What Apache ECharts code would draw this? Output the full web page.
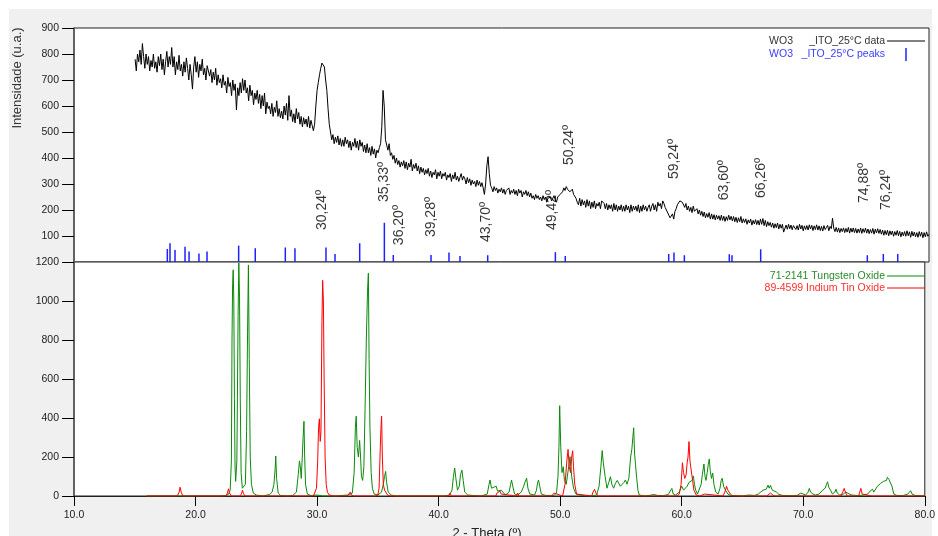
<!DOCTYPE html>
<html>
<head>
<meta charset="utf-8">
<script src="https://cdn.jsdelivr.net/npm/echarts/dist/echarts.min.js"></script>
<style>
html,body{margin:0;padding:0;background:#fff;}
#chart{width:938px;height:536px;}
</style>
</head>
<body>
<div id="chart"></div>
<script>
// ---------- DATA ----------
// Measured scan (WO3 _ITO_25°C data): 2-theta grid start / step, intensities
const scanStart = 15.0;
const scanStep = 0.1;
const wo3Counts = [
  780,735,800,770,815,760,840,790,745,800,
  760,790,735,775,750,800,745,770,730,790,
  755,800,740,780,720,770,810,750,790,760,
  825,750,790,720,770,740,795,735,760,715,
  770,730,785,745,700,760,720,665,750,790,
  730,770,710,760,735,780,720,745,700,755,
  760,715,740,690,730,700,745,680,720,690,
  705,670,720,680,695,650,710,675,690,640,
  700,660,685,585,670,640,690,650,705,660,
  700,650,670,620,680,640,660,605,650,625,
  660,610,645,590,640,600,650,570,615,590,
  600,570,610,560,595,575,620,560,590,555,
  580,550,600,565,610,545,640,560,585,540,
  570,535,590,550,575,530,560,520,555,530,
  550,520,560,515,545,525,505,530,600,660,
  690,720,745,765,770,750,700,660,590,530,
  500,470,490,455,480,460,485,450,475,445,
  470,445,480,455,470,440,465,430,460,445,
  475,440,465,430,470,445,460,425,450,420,
  455,420,440,410,445,415,435,400,430,420,
  440,455,520,660,600,470,450,430,455,410,
  420,395,410,380,400,375,390,365,385,370,
  390,360,385,355,380,365,395,350,375,360,
  380,350,370,340,365,345,360,335,355,340,
  360,330,350,325,345,335,355,320,345,330,
  350,320,340,330,345,315,335,325,340,310,
  335,320,345,315,330,310,325,340,315,330,
  320,300,325,305,320,295,315,300,310,290,
  315,295,310,290,305,285,260,300,370,405,
  340,295,285,270,290,275,285,265,280,270,
  285,265,280,260,275,270,285,260,275,265,
  280,260,275,255,280,265,275,250,270,260,
  275,255,270,250,265,245,255,240,260,245,
  255,240,250,235,255,240,250,230,245,240,
  250,235,245,255,240,230,250,245,260,255,
  270,285,275,290,280,285,270,275,280,260,
  265,245,230,220,245,215,240,220,235,210,
  240,215,235,205,230,210,235,205,225,215,
  230,205,235,240,225,205,225,200,220,205,
  220,195,225,200,220,195,215,200,220,195,
  215,195,220,200,215,190,220,195,215,200,
  215,195,220,190,215,195,220,200,215,195,
  210,220,195,215,225,200,220,195,230,215,
  225,205,235,225,210,200,195,180,170,175,
  185,165,195,205,220,215,235,240,230,225,
  210,225,200,215,195,210,190,215,195,200,
  205,185,200,180,195,175,192,170,186,172,
  190,165,185,165,182,162,180,165,178,160,
  180,160,176,156,174,160,180,162,176,158,
  175,155,172,152,170,155,175,150,166,152,
  166,145,162,150,165,142,160,146,163,144,
  160,142,165,145,167,140,160,136,155,140,
  152,134,150,130,147,132,150,127,145,130,
  145,115,122,142,126,145,128,142,124,140,
  143,125,140,123,145,127,141,120,139,125,
  140,123,143,127,141,121,139,125,143,123,
  139,121,137,119,140,125,133,141,120,137,
  128,168,130,117,133,115,131,113,129,117,
  131,113,129,115,133,111,130,115,131,113,
  129,111,127,113,131,110,128,114,130,111,
  127,109,125,111,129,107,126,112,128,110,
  125,107,123,103,121,105,122,101,120,105,
  119,99,117,103,121,101,118,97,115,101,
  117,99,120,101,116,95,118,100,115,97,
  113,95,117,99,115,93,113,97,116,99,
  106
];

// Identified peaks (blue sticks): positions (2-theta) and heights
const peakPos = [17.64,17.86,18.27,19.09,19.42,20.23,20.89,23.48,24.84,27.30,28.09,30.63,31.37,33.39,35.41,36.14,39.23,40.70,41.60,43.87,49.41,50.22,58.69,59.12,59.97,63.65,63.87,66.22,74.95,76.26,77.44];
const peakHeight = [50,72,46,59,40,33,40,63,53,56,53,56,31,72,151,27,27,37,23,26,38,23,31,37,26,30,26,49,26,31,31];

// Annotations in the upper panel
const annotLabels = ["30,24º","35,33º","36,20º","39,28º","43,70º","49,42º","50,24º","59,24º","63,60º","66,26º","74,88º","76,24º"];
const annotX = [30.30,35.38,36.61,39.23,43.73,49.13,50.53,59.12,63.22,66.25,74.68,76.48];
const annotY = [200,308,142,173,154,200,450,396,315,323,304,277];

// Reference pattern 71-2141 Tungsten Oxide [2theta, intensity]
const tungstenPattern = [
  [16.0,0],[16.4,0],[16.5,6],[16.6,0],[17.2,0],[17.3,5],[17.4,0],[20.5,0],[20.6,6],[20.7,0],
  [22.0,0],[22.5,3],[22.7,8],[22.85,30],[22.95,180],[23.0,800],[23.05,1090],[23.1,1160],[23.15,1000],[23.2,500],
  [23.25,150],[23.3,75],[23.4,180],[23.5,920],[23.56,1195],[23.62,1020],[23.68,500],[23.75,120],[23.85,40],[23.95,30],
  [24.1,60],[24.2,330],[24.28,840],[24.35,1185],[24.42,700],[24.5,200],[24.6,60],[24.75,15],[25.0,5],[25.5,0],
  [25.9,5],[26.1,8],[26.3,20],[26.45,60],[26.55,140],[26.6,205],[26.67,90],[26.8,15],[27.0,3],[27.5,0],
  [28.0,3],[28.3,20],[28.45,110],[28.55,180],[28.62,150],[28.7,90],[28.78,200],[28.85,300],[28.92,383],[28.98,200],
  [29.05,60],[29.2,10],[29.5,2],[30.0,5],[30.5,0],[31.5,0],[32.5,5],[32.9,15],[33.05,120],[33.15,350],
  [33.22,409],[33.3,250],[33.4,200],[33.5,285],[33.58,200],[33.65,100],[33.75,80],[33.85,150],[33.95,450],[34.05,800],
  [34.15,1050],[34.22,1143],[34.28,700],[34.35,350],[34.45,120],[34.55,40],[34.7,10],[35.0,5],[35.3,20],[35.45,60],
  [35.55,100],[35.64,126],[35.72,70],[35.85,20],[36.1,5],[36.5,0],[37.2,0],[37.3,5],[37.4,0],[38.9,0],
  [39.0,5],[39.2,0],[40.5,0],[40.9,5],[41.1,30],[41.22,100],[41.32,144],[41.42,90],[41.55,30],[41.7,50],
  [41.8,110],[41.92,132],[42.02,80],[42.15,20],[42.4,5],[43.0,2],[43.5,0],[44.0,10],[44.15,60],[44.23,82],
  [44.35,40],[44.45,30],[44.55,45],[44.73,51],[44.85,25],[45.0,15],[45.15,30],[45.3,25],[45.5,5],[45.8,20],
  [45.92,60],[46.0,82],[46.1,50],[46.25,10],[46.5,5],[46.8,20],[47.0,50],[47.1,70],[47.24,91],[47.35,40],
  [47.5,10],[47.9,5],[48.05,30],[48.15,70],[48.22,82],[48.32,50],[48.45,10],[48.8,3],[49.5,3],[49.7,15],
  [49.82,100],[49.9,250],[49.96,463],[50.05,250],[50.15,120],[50.26,150],[50.35,80],[50.5,60],[50.7,150],[50.81,202],
  [50.95,100],[51.1,40],[51.3,10],[51.6,5],[52.0,2],[52.5,0],[53.0,5],[53.2,50],[53.35,150],[53.46,233],
  [53.55,170],[53.7,100],[53.85,40],[54.0,70],[54.14,99],[54.25,60],[54.4,40],[54.55,65],[54.7,80],[54.82,84],
  [54.95,50],[55.1,40],[55.25,70],[55.37,82],[55.5,60],[55.65,90],[55.8,200],[55.9,240],[55.98,300],[56.05,350],
  [56.12,220],[56.2,160],[56.3,90],[56.4,30],[56.5,5],[57.0,0],[57.5,5],[57.7,8],[58.0,3],[58.5,2],
  [58.9,8],[59.05,25],[59.19,39],[59.3,10],[59.5,5],[59.8,20],[60.0,51],[60.15,30],[60.3,25],[60.45,50],
  [60.6,70],[60.75,60],[60.85,80],[60.96,103],[61.05,60],[61.15,30],[61.3,10],[61.45,20],[61.6,60],[61.7,110],
  [61.83,164],[61.92,100],[62.0,80],[62.1,120],[62.18,160],[62.27,190],[62.35,130],[62.45,90],[62.55,118],[62.65,60],
  [62.8,20],[63.0,10],[63.15,40],[63.25,80],[63.33,91],[63.45,50],[63.6,30],[63.8,10],[64.0,3],[64.5,2],
  [65.0,0],[65.5,5],[66.0,3],[66.3,10],[66.5,20],[66.7,30],[66.85,40],[66.96,35],[67.1,56],[67.2,40],
  [67.3,55],[67.45,30],[67.6,25],[67.8,20],[68.0,8],[68.3,3],[69.0,2],[69.5,3],[69.8,15],[69.95,10],
  [70.2,5],[70.4,20],[70.5,39],[70.6,20],[70.8,10],[71.0,5],[71.3,10],[71.6,30],[71.8,40],[71.92,60],
  [72.0,73],[72.1,45],[72.25,30],[72.4,10],[72.6,20],[72.7,35],[72.8,15],[73.0,5],[73.3,10],[73.5,20],
  [73.65,30],[73.8,10],[74.0,5],[74.5,2],[75.0,5],[75.3,10],[75.5,25],[75.7,35],[75.8,20],[75.95,30],
  [76.1,50],[76.25,40],[76.37,65],[76.5,55],[76.6,75],[76.75,85],[76.85,80],[76.92,96],[77.05,85],[77.2,80],
  [77.3,50],[77.45,10],[77.7,3],[78.2,2],[78.6,10],[78.75,20],[78.84,27],[78.95,10],[79.2,3],[80.0,0]
];

// Reference pattern 89-4599 Indium Tin Oxide [2theta, intensity]
const itoPattern = [
  [16.0,0],[18.5,0],[18.65,20],[18.73,45],[18.82,20],[18.95,0],[22.5,0],[22.62,15],[22.71,37],[22.8,15],
  [22.95,0],[23.7,0],[23.8,15],[23.86,30],[23.95,12],[24.05,0],[29.7,0],[29.85,10],[29.95,40],[30.05,180],
  [30.12,350],[30.19,396],[30.26,280],[30.32,330],[30.4,900],[30.46,1106],[30.52,1000],[30.58,600],[30.66,200],[30.75,60],
  [30.85,20],[31.0,5],[31.4,0],[32.5,0],[32.65,10],[32.73,20],[32.82,5],[33.0,0],[34.8,0],[35.0,5],
  [35.1,40],[35.2,250],[35.25,340],[35.31,409],[35.37,200],[35.45,60],[35.55,30],[35.65,20],[35.8,5],[36.0,0],
  [37.5,0],[37.6,5],[37.7,0],[38.3,0],[38.4,3],[38.5,0],[40.8,0],[40.94,15],[41.05,0],[42.3,0],
  [42.4,5],[42.5,0],[44.7,0],[44.8,15],[44.86,22],[44.95,10],[45.05,25],[45.15,10],[45.3,0],[46.4,0],
  [46.5,15],[46.6,0],[49.3,0],[49.45,10],[49.5,15],[49.6,5],[50.2,0],[50.4,60],[50.55,180],[50.65,239],
  [50.75,150],[50.85,120],[50.95,200],[51.03,232],[51.1,150],[51.2,60],[51.35,10],[51.5,0],[52.6,0],[52.7,20],
  [52.83,34],[52.95,15],[53.1,0],[59.6,0],[59.8,10],[59.95,60],[60.06,171],[60.15,120],[60.25,90],[60.36,108],
  [60.45,170],[60.52,200],[60.6,279],[60.68,180],[60.74,150],[60.8,150],[60.9,80],[61.0,30],[61.2,5],[61.5,0],
  [61.9,10],[62.0,0],[63.4,0],[63.55,20],[63.69,50],[63.8,30],[63.9,25],[64.0,10],[64.2,0],[67.0,0],
  [67.15,10],[67.3,15],[67.45,5],[67.6,0],[73.1,0],[73.25,20],[73.37,39],[73.5,15],[73.6,0],[74.55,0],
  [74.65,20],[74.74,39],[74.85,10],[75.0,0],[75.6,0],[75.7,10],[75.8,0],[78.5,0],[78.6,8],[78.7,0],[80.0,0]
];

// ---------- BUILD ----------
const wo3Series = wo3Counts.map((v, i) => [+(scanStart + i * scanStep).toFixed(2), v]);
const peakData = peakPos.map((x, i) => [x, peakHeight[i]]);
const annotData = annotX.map((x, i) => ({ value: [x, annotY[i]], name: annotLabels[i] }));

const FONT = '"Liberation Sans", Arial, sans-serif';
const chart = echarts.init(document.getElementById('chart'), null, { renderer: 'canvas' });

const grids = [
  { left: 74, right: 9, top: 28, height: 234, show: true, backgroundColor: '#fff', borderColor: '#222', borderWidth: 1, z: 0 },
  { left: 74, right: 9, top: 262, height: 234, show: true, backgroundColor: '#fff', borderColor: '#222', borderWidth: 1, z: 0 }
];

const yLabelStyle = { color: '#222', fontSize: 10.5, fontFamily: FONT, margin: 15, formatter: v => String(v) };

chart.setOption({
  animation: false,
  backgroundColor: '#fff',
  grid: grids,
  xAxis: [
    { gridIndex: 0, type: 'value', min: 10, max: 80, interval: 10,
      axisLine: { show: false }, axisTick: { show: false }, axisLabel: { show: false }, splitLine: { show: false } },
    { gridIndex: 1, type: 'value', min: 10, max: 80, interval: 10,
      axisLine: { show: true, onZero: false, lineStyle: { color: '#222', width: 1 } },
      axisTick: { show: true, length: 10, lineStyle: { color: '#000', width: 1 } },
      axisLabel: { color: '#222', fontSize: 10.5, fontFamily: FONT, margin: 14, formatter: v => v.toFixed(1) },
      splitLine: { show: false } }
  ],
  yAxis: [
    { gridIndex: 0, type: 'value', min: 0, max: 900, interval: 100,
      axisLine: { show: true, lineStyle: { color: '#555', width: 1.5 } },
      axisTick: { show: true, length: 12, lineStyle: { color: '#000', width: 1 } },
      axisLabel: Object.assign({}, yLabelStyle, { showMinLabel: false, formatter: v => (v === 0 ? '' : String(v)) }),
      splitLine: { show: false } },
    { gridIndex: 1, type: 'value', min: 0, max: 1200, interval: 200,
      axisLine: { show: true, lineStyle: { color: '#555', width: 1.5 } },
      axisTick: { show: true, length: 12, lineStyle: { color: '#000', width: 1 } },
      axisLabel: yLabelStyle,
      splitLine: { show: false } }
  ],
  series: [
    { type: 'scatter', xAxisIndex: 0, yAxisIndex: 0, symbolSize: 0, z: 1,
      data: annotData,
      label: { show: true, position: 'inside', rotate: 90, formatter: p => p.name,
               color: '#000', fontSize: 14, fontFamily: FONT, align: 'center', verticalAlign: 'middle' },
      labelLayout: { hideOverlap: false } },
    { type: 'line', name: 'data', xAxisIndex: 0, yAxisIndex: 0, data: wo3Series, showSymbol: false, symbol: 'none',
      lineStyle: { color: '#000', width: 1 }, z: 3 },
    { type: 'custom', name: 'peaks', xAxisIndex: 0, yAxisIndex: 0, data: peakData, z: 4,
      encode: { x: 0, y: 1 },
      renderItem: (params, api) => {
        const p0 = api.coord([api.value(0), 0]);
        const p1 = api.coord([api.value(0), api.value(1)]);
        return { type: 'line', shape: { x1: p0[0], y1: p0[1], x2: p1[0], y2: p1[1] },
                 style: { stroke: '#2020ff', lineWidth: 1.5 } };
      } },
    { type: 'line', name: '71-2141 Tungsten Oxide', xAxisIndex: 1, yAxisIndex: 1, data: tungstenPattern,
      showSymbol: false, symbol: 'none', lineStyle: { color: '#0a8a0a', width: 1 }, z: 3 },
    { type: 'line', name: '89-4599 Indium Tin Oxide', xAxisIndex: 1, yAxisIndex: 1, data: itoPattern,
      showSymbol: false, symbol: 'none', lineStyle: { color: '#ff0000', width: 1 }, z: 4 }
  ],
  graphic: [
    { type: 'rect', z: -10, silent: true, shape: { x: 9, y: 9, width: 923, height: 527 }, style: { fill: '#f0f0f0' } },
    // axis titles
    { type: 'text', x: 17, y: 78, rotation: Math.PI / 2, z: 10,
      style: { text: 'Intensidade (u.a.)', fill: '#333', font: '13px ' + FONT, textAlign: 'center', textVerticalAlign: 'middle' } },
    { type: 'text', x: 487, y: 533, z: 10,
      style: { text: '2 - Theta (º)', fill: '#222', font: '13px ' + FONT, textAlign: 'center', textVerticalAlign: 'middle' } },
    // top legend
    { type: 'text', x: 793, y: 41, z: 10, style: { text: 'WO3', fill: '#333', font: '10.5px ' + FONT, textAlign: 'right', textVerticalAlign: 'middle' } },
    { type: 'text', x: 885, y: 41, z: 10, style: { text: '_ITO_25°C data', fill: '#333', font: '10.5px ' + FONT, textAlign: 'right', textVerticalAlign: 'middle' } },
    { type: 'line', z: 10, shape: { x1: 887, y1: 41, x2: 925, y2: 41 }, style: { stroke: '#000', lineWidth: 1 } },
    { type: 'text', x: 793, y: 54, z: 10, style: { text: 'WO3', fill: '#3c3cff', font: '10.5px ' + FONT, textAlign: 'right', textVerticalAlign: 'middle' } },
    { type: 'text', x: 885, y: 54, z: 10, style: { text: '_ITO_25°C peaks', fill: '#3c3cff', font: '10.5px ' + FONT, textAlign: 'right', textVerticalAlign: 'middle' } },
    { type: 'line', z: 10, shape: { x1: 906, y1: 48, x2: 906, y2: 61 }, style: { stroke: '#2020ff', lineWidth: 1.5 } },
    // bottom legend
    { type: 'text', x: 885, y: 276, z: 10, style: { text: '71-2141 Tungsten Oxide', fill: '#2a8a2a', font: '10.5px ' + FONT, textAlign: 'right', textVerticalAlign: 'middle' } },
    { type: 'line', z: 10, shape: { x1: 887, y1: 276, x2: 925, y2: 276 }, style: { stroke: '#0a8a0a', lineWidth: 1 } },
    { type: 'text', x: 885, y: 288, z: 10, style: { text: '89-4599 Indium Tin Oxide', fill: '#ff3030', font: '10.5px ' + FONT, textAlign: 'right', textVerticalAlign: 'middle' } },
    { type: 'line', z: 10, shape: { x1: 887, y1: 288, x2: 925, y2: 288 }, style: { stroke: '#ff0000', lineWidth: 1 } }
  ]
});
</script>
</body>
</html>
